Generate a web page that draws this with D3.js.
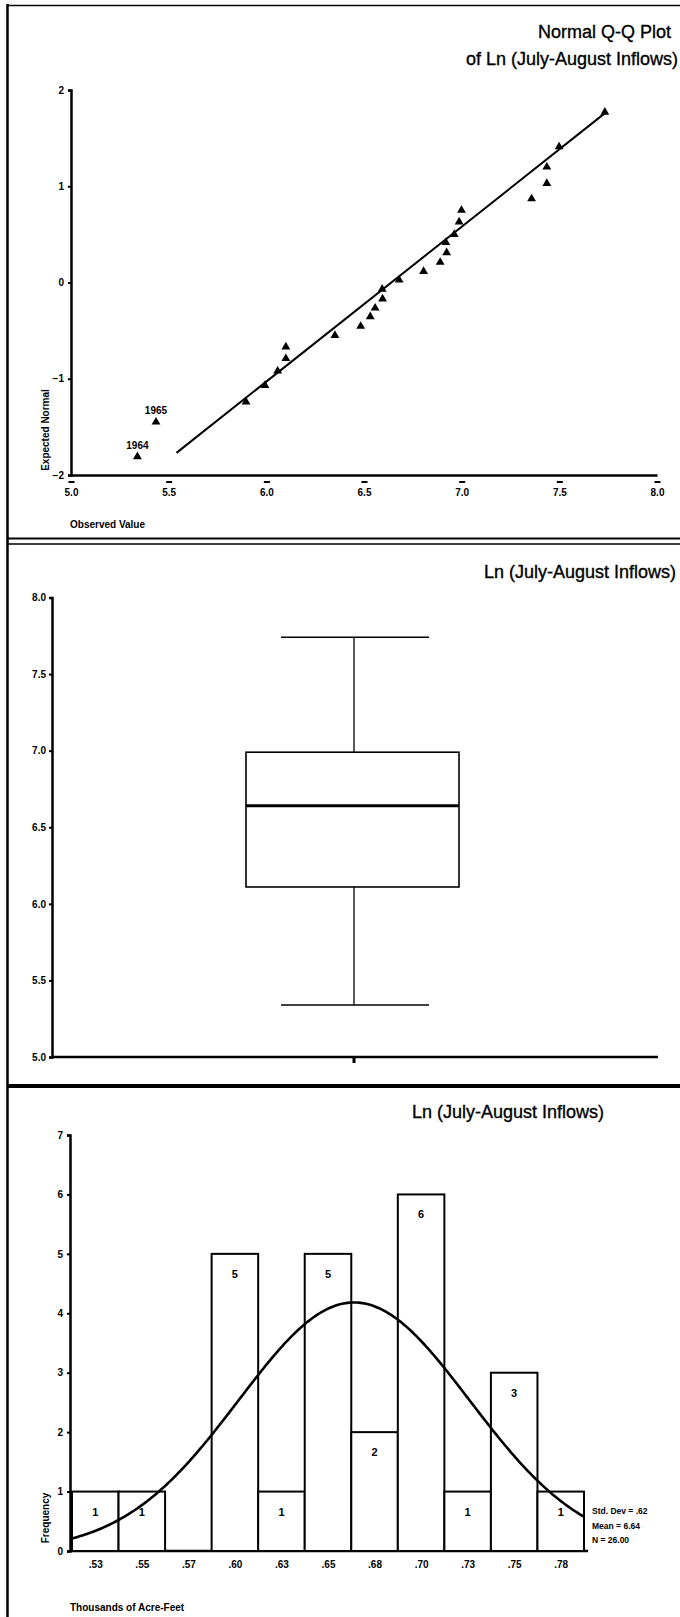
<!DOCTYPE html>
<html>
<head>
<meta charset="utf-8">
<script src="https://cdn.jsdelivr.net/npm/d3@7"></script>
<style>
    body { margin: 0; background: #fff; }
    svg { display: block; font-family: "Liberation Sans", Arial, sans-serif; }
    .tick text { font-size: 10px; font-weight: bold; fill: #000; }
    .domain { stroke: #000; }
</style>
</head>
<body>
<div id="chart"></div>
<script>
(function(){
    // ---- Q-Q plot data
    var qqObserved = [5.34, 5.435, 5.896, 5.993, 6.058, 6.100, 6.100, 6.351, 6.483, 6.532, 6.557, 6.595, 6.593,
                      6.680, 6.805, 6.890, 6.923, 6.919, 6.962, 6.987, 6.999, 7.358, 7.436, 7.436, 7.499, 7.733];
    var qqExpected = [-1.81, -1.45, -1.24, -1.07, -0.92, -0.79, -0.67, -0.55, -0.455, -0.355, -0.265, -0.17, -0.07,
                      0.026, 0.116, 0.21, 0.31, 0.415, 0.50, 0.63, 0.75, 0.87, 1.03, 1.20, 1.41, 1.77];
    var qqPointLabels = ['1964', '1965'];
    var qqLineX = [5.54, 7.74];
    var qqLineY = [-1.77, 1.77];
    var qqXTicks = [5.0, 5.5, 6.0, 6.5, 7.0, 7.5, 8.0];
    var qqYTicks = [-2, -1, 0, 1, 2];

    // ---- box plot data: min, q1, median, q3, max
    var boxValues = [5.34, 6.11, 6.64, 6.99, 7.74];
    var boxYTicks = [5.0, 5.5, 6.0, 6.5, 7.0, 7.5, 8.0];

    // ---- histogram data
    var binCenters = [5.25, 5.5, 5.75, 6.0, 6.25, 6.5, 6.75, 7.0, 7.25, 7.5, 7.75];
    var binCounts  = [1, 1, 0, 5, 1, 5, 2, 6, 1, 3, 1];
    var binLabels  = ['.53', '.55', '.57', '.60', '.63', '.65', '.68', '.70', '.73', '.75', '.78'];
    var histYTicks = [0, 1, 2, 3, 4, 5, 6, 7];
    var statMean = 6.64, statSd = 0.62, statN = 26, binWidth = 0.25;
    var statLines = ['Std. Dev = .62', 'Mean = 6.64', 'N = 26.00'];

    var WIDTH  = 680,
        HEIGHT = 1617,
        FONT_B = 'bold';

    var svg = d3.select('#chart').append('svg')
        .attr('width', WIDTH)
        .attr('height', HEIGHT);

    // ---- frame lines
    var frame = svg.append('g').attr('stroke', '#000');
    frame.append('line').attr('x1', 7.5).attr('x2', 7.5).attr('y1', 4).attr('y2', HEIGHT).attr('stroke-width', 2.5);
    frame.append('line').attr('x1', 7).attr('x2', WIDTH).attr('y1', 5.5).attr('y2', 5.5).attr('stroke-width', 1.5);
    frame.append('line').attr('x1', 7).attr('x2', WIDTH).attr('y1', 538.5).attr('y2', 538.5).attr('stroke-width', 2);
    frame.append('line').attr('x1', 7).attr('x2', WIDTH).attr('y1', 544).attr('y2', 544).attr('stroke-width', 1.5);
    frame.append('line').attr('x1', 7).attr('x2', WIDTH).attr('y1', 1086).attr('y2', 1086).attr('stroke-width', 4);

    function styleAxis(g, w){
        g.select('.domain').attr('stroke-width', w);
        g.selectAll('.tick line').attr('stroke', '#000').attr('stroke-width', 2);
    }

    function title(txt, x, y, size){
        svg.append('text')
            .attr('x', x).attr('y', y)
            .attr('text-anchor', 'end')
            .attr('font-size', size)
            .attr('stroke', '#000').attr('stroke-width', 0.35)
            .text(txt);
    }

    // =============== Q-Q plot
    var qx = d3.scaleLinear().domain([5, 8]).range([71, 657]);
    var qy = d3.scaleLinear().domain([-2, 2]).range([475, 90]);

    title('Normal Q-Q Plot', 671, 38, 18);
    title('of Ln (July-August Inflows)', 678, 65, 18);

    var qxAxis = svg.append('g')
        .attr('transform', 'translate(0,475)')
        .call(d3.axisBottom(qx).tickValues(qqXTicks).tickFormat(d3.format('.1f')).tickSize(0).tickPadding(14));
    styleAxis(qxAxis, 2.5);
    qxAxis.selectAll('.tick').append('line')
        .attr('x1', -3).attr('x2', 3).attr('y1', 7).attr('y2', 7)
        .attr('stroke', '#000').attr('stroke-width', 2);

    var qyAxis = svg.append('g')
        .attr('transform', 'translate(71,0)')
        .call(d3.axisLeft(qy).tickValues(qqYTicks).tickFormat(d3.format('d')).tickSize(3).tickPadding(4));
    styleAxis(qyAxis, 2.5);
    qyAxis.selectAll('.tick text').attr('font-size', 9);

    svg.append('line')
        .attr('x1', qx(qqLineX[0])).attr('y1', qy(qqLineY[0]))
        .attr('x2', qx(qqLineX[1])).attr('y2', qy(qqLineY[1]))
        .attr('stroke', '#000').attr('stroke-width', 2);

    svg.append('g').selectAll('path')
        .data(qqObserved)
        .enter().append('path')
        .attr('d', d3.symbol().type(d3.symbolTriangle).size(34))
        .attr('transform', function(d, i){ return 'translate(' + qx(d) + ',' + qy(qqExpected[i]) + ')'; })
        .attr('fill', '#000');

    svg.append('g').selectAll('text')
        .data(qqPointLabels)
        .enter().append('text')
        .attr('x', function(d, i){ return qx(qqObserved[i]); })
        .attr('y', function(d, i){ return qy(qqExpected[i]) - 8; })
        .attr('text-anchor', 'middle')
        .attr('font-size', 10).attr('font-weight', FONT_B)
        .text(function(d){ return d; });

    svg.append('text')
        .attr('transform', 'translate(49,430) rotate(-90)')
        .attr('text-anchor', 'middle')
        .attr('font-size', 10).attr('font-weight', FONT_B)
        .text('Expected Normal');

    svg.append('text')
        .attr('x', 70).attr('y', 528)
        .attr('font-size', 10).attr('font-weight', FONT_B)
        .text('Observed Value');

    // =============== box plot
    var by = d3.scaleLinear().domain([5, 8]).range([1057, 597.5]);
    var boxLeft = 246, boxRight = 459, boxMid = 354, capL = 281, capR = 429;

    title('Ln (July-August Inflows)', 676, 578, 18);

    var byAxis = svg.append('g')
        .attr('transform', 'translate(52,0)')
        .call(d3.axisLeft(by).tickValues(boxYTicks).tickFormat(d3.format('.1f')).tickSize(3).tickPadding(3));
    styleAxis(byAxis, 2.5);

    svg.append('line')
        .attr('x1', 52).attr('x2', 658).attr('y1', by(5)).attr('y2', by(5))
        .attr('stroke', '#000').attr('stroke-width', 2.5);
    svg.append('line')
        .attr('x1', boxMid).attr('x2', boxMid).attr('y1', by(5)).attr('y2', by(5) + 6)
        .attr('stroke', '#000').attr('stroke-width', 3);

    var bx = svg.append('g').attr('stroke', '#000').attr('fill', 'none');
    bx.append('line').attr('x1', boxMid).attr('x2', boxMid)
        .attr('y1', by(boxValues[0])).attr('y2', by(boxValues[1])).attr('stroke-width', 1.3);
    bx.append('line').attr('x1', boxMid).attr('x2', boxMid)
        .attr('y1', by(boxValues[3])).attr('y2', by(boxValues[4])).attr('stroke-width', 1.3);
    bx.append('line').attr('x1', capL).attr('x2', capR)
        .attr('y1', by(boxValues[0])).attr('y2', by(boxValues[0])).attr('stroke-width', 1.5);
    bx.append('line').attr('x1', capL).attr('x2', capR)
        .attr('y1', by(boxValues[4])).attr('y2', by(boxValues[4])).attr('stroke-width', 1.5);
    bx.append('rect')
        .attr('x', boxLeft).attr('width', boxRight - boxLeft)
        .attr('y', by(boxValues[3])).attr('height', by(boxValues[1]) - by(boxValues[3]))
        .attr('stroke-width', 1.6);
    bx.append('line').attr('x1', boxLeft).attr('x2', boxRight)
        .attr('y1', by(boxValues[2])).attr('y2', by(boxValues[2])).attr('stroke-width', 3);

    // =============== histogram
    var hx = d3.scaleLinear().domain([5.125, 7.875]).range([72, 584]);
    var hy = d3.scaleLinear().domain([0, 7]).range([1551, 1135]);

    title('Ln (July-August Inflows)', 604, 1118, 18);

    var hyAxis = svg.append('g')
        .attr('transform', 'translate(70,0)')
        .call(d3.axisLeft(hy).tickValues(histYTicks).tickFormat(d3.format('d')).tickSize(3).tickPadding(4));
    styleAxis(hyAxis, 2.5);
    hyAxis.selectAll('.tick text').attr('font-size', 9);

    var hxAxis = svg.append('g')
        .attr('transform', 'translate(0,1551)')
        .call(d3.axisBottom(hx).tickValues(binCenters).tickFormat(function(d, i){ return binLabels[i]; })
            .tickSize(0).tickPadding(10));
    styleAxis(hxAxis, 2.5);
    hxAxis.select('.domain').attr('d', 'M70,0H588');
    hxAxis.selectAll('.tick text').attr('font-size', 9);

    var bins = binCenters.map(function(c, i){ return { center: c, count: binCounts[i] }; })
        .filter(function(b){ return b.count > 0; });

    var bars = svg.append('g').selectAll('g')
        .data(bins)
        .enter().append('g');

    bars.append('rect')
        .attr('x', function(d){ return hx(d.center - binWidth / 2); })
        .attr('width', function(d){ return hx(d.center + binWidth / 2) - hx(d.center - binWidth / 2); })
        .attr('y', function(d){ return hy(d.count); })
        .attr('height', function(d){ return hy(0) - hy(d.count); })
        .attr('fill', '#fff').attr('stroke', '#000').attr('stroke-width', 2);

    bars.append('text')
        .attr('x', function(d){ return hx(d.center); })
        .attr('y', function(d){ return hy(d.count) + 24; })
        .attr('text-anchor', 'middle')
        .attr('font-size', 11).attr('font-weight', FONT_B)
        .text(function(d){ return d.count; });

    // fitted normal curve from the stated mean / sd / N
    var curveX = d3.range(hx.domain()[0], hx.domain()[1] + 0.001, 0.01);
    var curve = d3.line()
        .x(function(d){ return hx(d); })
        .y(function(d){
            var z = (d - statMean) / statSd;
            return hy(statN * binWidth * Math.exp(-0.5 * z * z) / (statSd * Math.sqrt(2 * Math.PI)));
        });
    svg.append('path')
        .datum(curveX)
        .attr('d', curve)
        .attr('fill', 'none').attr('stroke', '#000').attr('stroke-width', 2.6);

    svg.append('g').selectAll('text')
        .data(statLines)
        .enter().append('text')
        .attr('x', 592)
        .attr('y', function(d, i){ return 1514 + i * 14.5; })
        .attr('font-size', 8.5).attr('font-weight', FONT_B)
        .text(function(d){ return d; });

    svg.append('text')
        .attr('transform', 'translate(49,1518) rotate(-90)')
        .attr('text-anchor', 'middle')
        .attr('font-size', 10).attr('font-weight', FONT_B)
        .text('Frequency');

    svg.append('text')
        .attr('x', 70).attr('y', 1611)
        .attr('font-size', 10).attr('font-weight', FONT_B)
        .text('Thousands of Acre-Feet');

})();
</script>
</body>
</html>
